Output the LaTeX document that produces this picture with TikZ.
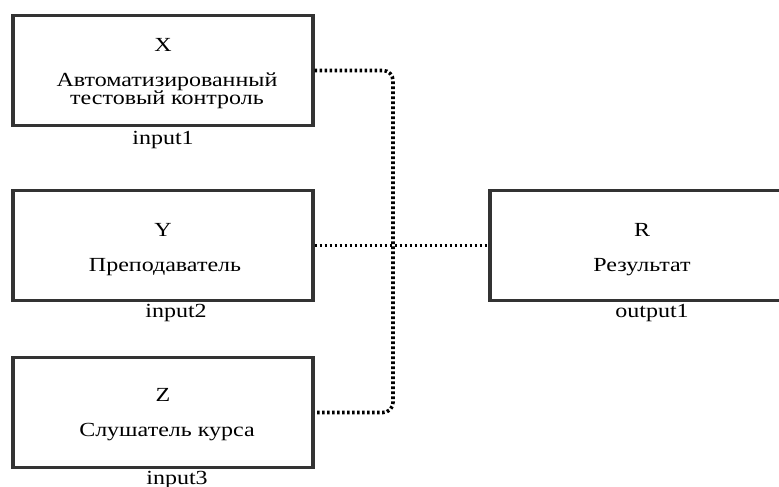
\documentclass[tikz,border=0pt]{standalone}
\usepackage{fontspec}
\setmainfont{Liberation Serif}
\usetikzlibrary{positioning}

\tikzset{
  unitbox/.style={draw=black!80, line width=1.6pt, minimum width=150pt, minimum height=55pt, inner sep=0pt},
  wide/.style={xscale=1.2, transform shape},
  link/.style={line width=1.8pt, dash pattern=on 1.3pt off 1.2pt, rounded corners=5pt},
}

\begin{document}
\begin{tikzpicture}[x=0.5pt, y=0.5pt, font=\fontsize{10}{9}\selectfont]
  \useasboundingbox (0,0) rectangle (779,486);
  \clip (0,0) rectangle (779,486);
  % blocks
  \node[unitbox] (xbox) at (163,415.5) {};
  \node[unitbox] (ybox) at (163,240.5) {};
  \node[unitbox] (zbox) at (163,73.5) {};
  \node[unitbox] (rbox) at (640,240.5) {};
  % block texts
  \node[wide] (xname) at (163,441) {X};
  \node[wide, align=center] (xtext) at (167,395) {Автоматизированный\\тестовый контроль};
  \node[wide] (xport) at (163,346) {input1};
  \node[wide] (yname) at (163,256) {Y};
  \node[wide] (ytext) at (165,219) {Преподаватель};
  \node[wide] (yport) at (176,173) {input2};
  \node[wide] (zname) at (163,91) {Z};
  \node[wide] (ztext) at (167,54) {Слушатель курса};
  \node[wide] (zport) at (177,6) {input3};
  \node[wide] (rname) at (642,256) {R};
  \node[wide] (rtext) at (642,219) {Результат};
  \node[wide] (rport) at (652,173) {output1};
  % links
  \coordinate (bus) at (393,240.5);
  \draw[link] (xbox.east) -| (bus) |- (zbox.east);
  \draw[link] (ybox.east) -- (rbox.west);
\end{tikzpicture}
\end{document}
